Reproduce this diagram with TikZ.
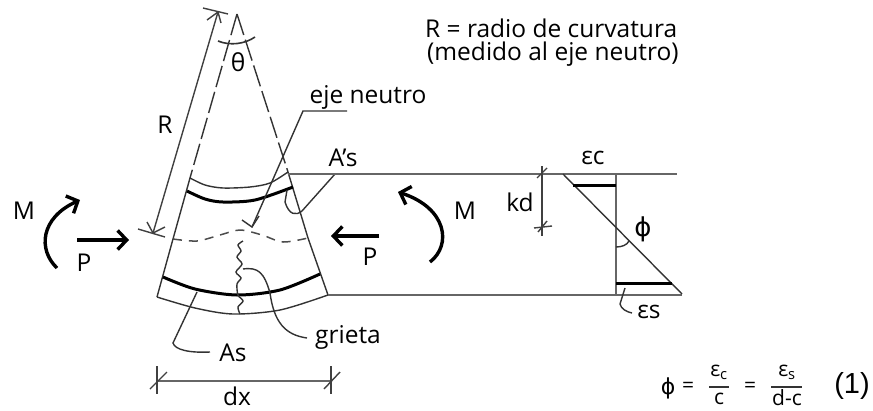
\documentclass[tikz,border=0pt]{standalone}
\usepackage{fontspec}
\setmainfont{Open Sans}
\newfontfamily\armfont{Liberation Sans}
\newfontfamily\symfont{DejaVu Sans}
\usetikzlibrary{arrows.meta}
\tikzset{
  lbl/.style={inner sep=0pt, font=\fontsize{24.5}{27}\selectfont},
  small/.style={inner sep=0pt, font=\fontsize{21}{23}\selectfont},
  thinline/.style={line width=1.4pt, black!80},
  heavy/.style={line width=3pt, black},
  chord/.style={line width=2pt, black!60},
  force/.style={line width=3.4pt, black, -{Straight Barb[length=9pt,width=19pt,line width=3.4pt]}},
  dimline/.style={line width=1.4pt, black!75}
}
\begin{document}
\begin{tikzpicture}[x=1pt, y=-1pt]
    \useasboundingbox (0,0) rectangle (873,410);

    \coordinate (apex) at (237,14);
    \coordinate (topL) at (190,178);
    \coordinate (topR) at (288,172);
    \coordinate (midL) at (173,239);
    \coordinate (midR) at (308,238);
    \coordinate (barL) at (163,277);
    \coordinate (barR) at (320,274);
    \coordinate (botL) at (157,297);
    \coordinate (botR) at (328,295);

    \draw[thinline, dash pattern=on 22pt off 5pt] (apex) -- (topL);
    \draw[thinline, dash pattern=on 22pt off 5pt] (apex) -- (topR);
    \draw[thinline] (topL) -- (midL) -- (botL);
    \draw[thinline] (topR) -- (midR) -- (botR);

    \draw[thinline, smooth] plot coordinates {(topL) (205,185) (223,188) (250,187) (270,183) (topR)};
    \draw[heavy, smooth] plot coordinates {(187,191) (205,199) (223,202) (255,200) (293,187)};
    \draw[heavy, smooth] plot coordinates {(barL) (195,289) (237,295) (280,290) (barR)};
    \draw[thinline, smooth] plot coordinates {(botL) (195,308) (233,314) (280,310) (botR)};
    \draw[thinline, black!70, line width=1.5pt, dash pattern=on 9pt off 7pt, smooth] plot coordinates {(midL) (197,241) (220,235) (240,230) (262,235) (283,242) (midR)};

    \draw[thinline, smooth] plot coordinates {(243,241) (238,245) (241,251) (237,257) (242,264) (236,272) (241,278) (237,284) (238,295) (243,301) (238,307) (240,314)};

    \draw[dimline] (218,12) -- (153,233);
    \draw[dimline] (203,8) -- (228,14);
    \draw[dimline] (207,20) -- (218,12) -- (221,23);
    \draw[dimline] (138,229) -- (165,237);
    \draw[dimline] (147,222) -- (153,233) -- (165,227);

    \draw[thinline, line width=1.6pt] (218,41) .. controls (230,46) and (245,44) .. (255,37);

    \node[lbl] (theta) at (238,62) {θ};
    \node[lbl] (radius) at (165,125) {R};
    \node[lbl, anchor=west] (note1) at (425,28) {R = radio de curvatura};
    \node[lbl, anchor=west] (note2) at (427,54) {(medido al eje neutro)};
    \node[lbl] (neutral) at (368,97) {eje neutro};
    \node[lbl] (steeltop) at (343,158) {A’s};
    \node[lbl] (steelbot) at (233,353) {As};
    \node[lbl] (crack) at (348,337) {grieta};
    \node[lbl] (width) at (237,396) {dx};
    \node[lbl] (momentL) at (24,211) {M};
    \node[lbl] (axialL) at (84,263) {P};
    \node[lbl] (momentR) at (465,211) {M};
    \node[lbl] (axialR) at (370,257) {P};
    \node[lbl] (depth) at (520,202) {kd};
    \node[lbl] (strainc) at (593,158) {εc};
    \node[lbl] (strains) at (649,312) {εs};
    \node[lbl, font=\symfont\fontsize{26}{28}\selectfont] (curv) at (643,229) {ϕ};

    \draw[thinline] (347,111) -- (303,111) -- (252,227);
    \draw[thinline] (242,220) -- (252,227) -- (259,216);
    \draw[thinline] (335,174) -- (302,211) .. controls (296,216) and (289,215) .. (285,202) -- (287,190);
    \draw[thinline] (197,292) -- (173,343) .. controls (175,350) and (190,353) .. (210,352);
    \draw[thinline] (243,269) .. controls (258,267) and (264,272) .. (270,293) .. controls (274,322) and (285,335) .. (307,338);

    \draw[chord] (288,174) -- (677,174);
    \draw[chord] (328,295) -- (682,295);
    \draw[chord] (616,174) -- (616,295);
    \draw[thinline] (563,174) -- (682,294);
    \draw[heavy] (573,185) -- (616,185);
    \draw[heavy] (616,283) -- (672,283);

    \draw[dimline] (542,166) -- (542,236);
    \draw[dimline] (537,178) -- (547,168);
    \draw[dimline] (534,228) -- (552,226);
    \draw[dimline] (538,232) -- (547,221);
    \draw[thinline] (616,247) .. controls (622,247) and (627,245) .. (629,241);
    \draw[thinline] (625,288) -- (620,304) .. controls (621,309) and (627,312) .. (632,313);

    \draw[chord] (157,381) -- (331,381);
    \draw[dimline] (157,366) -- (157,394);
    \draw[dimline] (331,366) -- (331,394);
    \draw[dimline] (150,389) -- (167,372);
    \draw[dimline] (324,389) -- (340,372);

    \draw[force] (77,240) -- (129,240);
    \draw[force] (379,236) -- (331,236);
    \draw[force] (57,268) .. controls (38,250) and (40,218) .. (80,200);
    \draw[force] (430,262) .. controls (452,245) and (447,208) .. (398,192);

    \node[small, font=\symfont\fontsize{22}{24}\selectfont] (phi) at (668,388) {ϕ};
    \node[small] (eqA) at (688,387) {=};
    \node[small] (eqnumc) at (719,372) {ε\textsubscript{c}};
    \node[small] (eqdenc) at (719,399) {c};
    \node[small] (eqB) at (750,387) {=};
    \node[small] (eqnums) at (787,372) {ε\textsubscript{s}};
    \node[small] (eqdens) at (787,398) {d-c};
    \node[inner sep=0pt, font=\armfont\fontsize{29}{31}\selectfont] (eqtag) at (852,386) {(1)};
    \draw[thinline] (709,387) -- (729,387);
    \draw[thinline] (771,387) -- (802,387);
\end{tikzpicture}
\end{document}
